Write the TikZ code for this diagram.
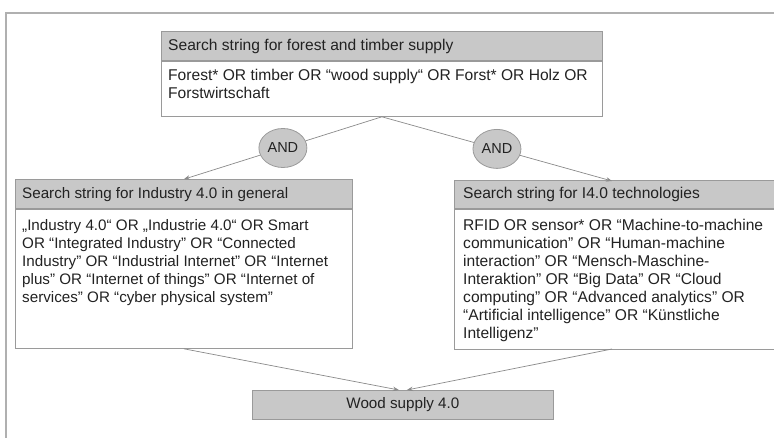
\documentclass[tikz,border=0pt]{standalone}
\usepackage{fontspec}
\setmainfont{Liberation Sans}
\usetikzlibrary{arrows.meta,calc,shapes.geometric}
\definecolor{hdfill}{HTML}{C8C8C8}
\definecolor{edge}{HTML}{9A9A9A}
\definecolor{conn}{HTML}{8A8A8A}
\definecolor{txt}{HTML}{222222}
\definecolor{frame}{HTML}{B0B0B0}
\tikzset{
  boxbody/.style={draw=edge, fill=white, line width=0.8pt, inner sep=0pt, rectangle},
  boxhead/.style={draw=edge, fill=hdfill, line width=0.8pt, inner sep=0pt, rectangle},
  headtext/.style={inner sep=0pt, text=txt, font=\fontsize{15.2}{18}\selectfont},
  bodytext/.style={inner sep=0pt, text=txt, align=left, font=\fontsize{15.2}{18}\selectfont},
  bigger/.style={font=\fontsize{15.6}{18}\selectfont},
  andnode/.style={ellipse, draw=edge, fill=hdfill, line width=0.8pt, minimum width=48pt, minimum height=39pt, inner sep=0pt, text=txt, font=\fontsize{14.5}{16}\selectfont},
  link/.style={draw=conn, line width=0.7pt},
  arrowlink/.style={link, -{Stealth[length=6pt,width=4.5pt]}},
}
\begin{document}
\begin{tikzpicture}[x=1pt,y=-1pt]
\useasboundingbox (0,0) rectangle (774,438);
\clip (0,0) rectangle (774,438);
% frame
\draw[frame, line width=1.2pt] (6,438) -- (6,13) -- (780,13);
% top box
\node[boxbody, minimum width=441pt, minimum height=55pt, anchor=north west] (tbody) at (161,61) {};
\node[boxhead, minimum width=441pt, minimum height=29pt, anchor=south west] (thead) at (tbody.north west) {};
\node[headtext, bigger, anchor=west] (theadt) at ([xshift=7pt]thead.west) {Search string for forest and timber supply};
\node[bodytext, bigger, anchor=north west] (tbodyt) at ([xshift=7pt,yshift=-8pt]tbody.north west)
  {Forest* OR timber OR “wood supply“ OR Forst* OR Holz OR\\Forstwirtschaft};
% left box
\node[boxbody, minimum width=337pt, minimum height=139pt, anchor=north west] (lbody) at (15,209) {};
\node[boxhead, minimum width=337pt, minimum height=29pt, anchor=south west] (lhead) at (lbody.north west) {};
\node[headtext, anchor=west] (lheadt) at ([xshift=7pt]lhead.west) {Search string for Industry 4.0 in general};
\node[bodytext, anchor=north west] (lbodyt) at ([xshift=7pt,yshift=-10pt]lbody.north west)
  {„Industry 4.0“ OR „Industrie 4.0“ OR Smart\\OR “Integrated Industry” OR “Connected\\Industry” OR “Industrial Internet” OR “Internet\\plus” OR “Internet of things” OR “Internet of\\services” OR “cyber physical system”};
% right box
\node[boxbody, minimum width=330pt, minimum height=140pt, anchor=north west] (rbody) at (454,209) {};
\node[boxhead, minimum width=330pt, minimum height=28pt, anchor=south west] (rhead) at (rbody.north west) {};
\node[headtext, bigger, anchor=west] (rheadt) at ([xshift=9pt]rhead.west) {Search string for I4.0 technologies};
\node[bodytext, bigger, anchor=north west] (rbodyt) at ([xshift=9pt,yshift=-10pt]rbody.north west)
  {RFID OR sensor* OR “Machine-to-machine\\communication” OR “Human-machine\\interaction” OR “Mensch-Maschine-\\Interaktion” OR “Big Data” OR “Cloud\\computing” OR “Advanced analytics” OR\\“Artificial intelligence” OR “Künstliche\\Intelligenz”};
% result box
\node[boxhead, minimum width=301pt, minimum height=29pt, anchor=north west, font=\fontsize{15.2}{18}\selectfont, text=txt] (wood) at (252,390) {Wood supply 4.0};
% connector points
\coordinate (rin) at (612,181);
\coordinate (rout) at (612,349);
\coordinate (win1) at ([xshift=-4pt]wood.north);
\coordinate (win2) at ([xshift=4pt]wood.north);
% AND nodes
\node[andnode] (andl) at ($(tbody.south)!0.5!(lhead.north)$) {AND};
\node[andnode] (andr) at ($(tbody.south)!0.5!(rin)$) {AND};
% connectors
\draw[link] (tbody.south) -- (andl);
\draw[arrowlink] (andl) -- (lhead.north);
\draw[link] (tbody.south) -- (andr);
\draw[arrowlink] (andr) -- (rin);
\draw[arrowlink] (lbody.south) -- (win1);
\draw[arrowlink] (rout) -- (win2);
\end{tikzpicture}
\end{document}
